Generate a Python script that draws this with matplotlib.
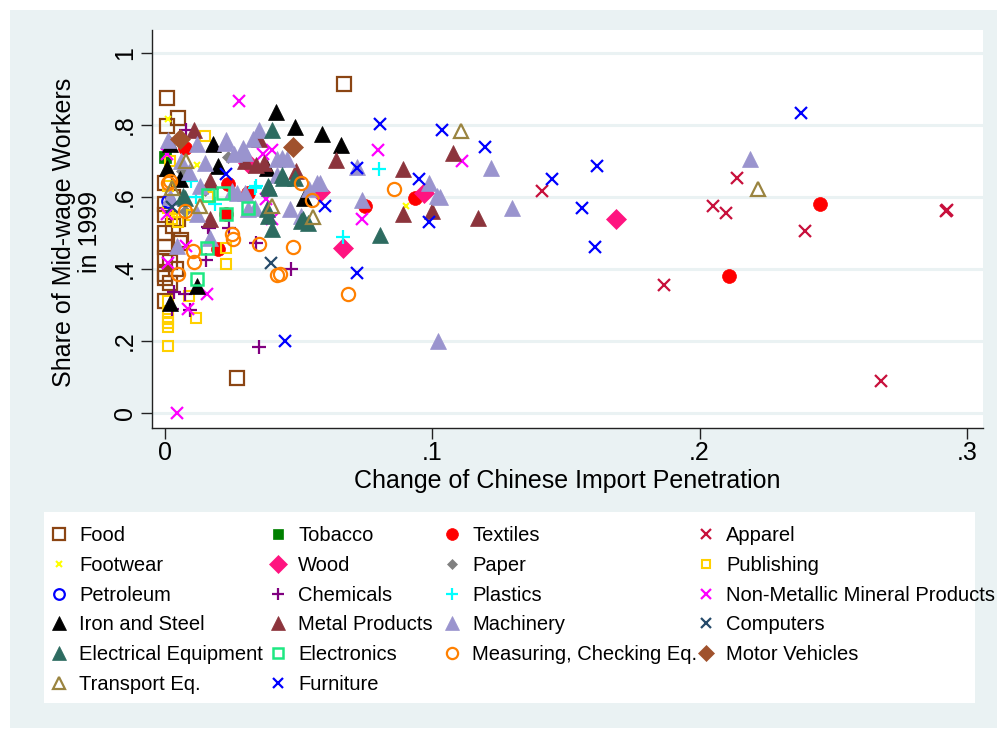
import matplotlib
matplotlib.use("Agg")
import matplotlib.pyplot as plt
from matplotlib.patches import Rectangle

plt.rcParams['font.family'] = ['Liberation Sans', 'DejaVu Sans']

# ---------------- data ----------------
food_x = [0.0007, 0.005, 0.0007, 0.067, 0.027, 0.0, 0.0, 0.0, 0.0, 0.0, 0.0056, 0.002, 0.0, 0.0, 0.0,
          0.003, 0.005, 0.003, 0.006, 0.0, 0.004, 0.002]
food_y = [0.876, 0.82, 0.798, 0.915, 0.097, 0.50, 0.46, 0.387, 0.375, 0.31, 0.473, 0.42, 0.64, 0.58, 0.55,
          0.60, 0.54, 0.52, 0.48, 0.43, 0.40, 0.36]
tobacco_x = [0.0]
tobacco_y = [0.71]
textiles_x = [0.245, 0.211, 0.0935, 0.075, 0.0075, 0.02, 0.031, 0.0235, 0.023]
textiles_y = [0.581, 0.381, 0.598, 0.576, 0.737, 0.456, 0.61, 0.637, 0.553]
apparel_x = [0.141, 0.1865, 0.205, 0.21, 0.214, 0.2396, 0.268, 0.292, 0.2925]
apparel_y = [0.617, 0.356, 0.576, 0.556, 0.654, 0.506, 0.089, 0.562, 0.565]
footwear_x = [0.001, 0.09, 0.003, 0.012]
footwear_y = [0.818, 0.576, 0.55, 0.69]
wood_x = [0.1686, 0.097, 0.0665, 0.058, 0.031]
wood_y = [0.54, 0.61, 0.459, 0.615, 0.695]
paper_x = [0.0235, 0.0075, 0.0064, 0.015]
paper_y = [0.71, 0.56, 0.673, 0.62]
publishing_x = [0.001, 0.001, 0.001, 0.001, 0.001, 0.001, 0.0026, 0.001, 0.001, 0.002, 0.005, 0.009,
                0.0116, 0.023, 0.023, 0.015, 0.016, 0.01]
publishing_y = [0.31, 0.28, 0.26, 0.25, 0.24, 0.186, 0.54, 0.57, 0.63, 0.70, 0.53, 0.325,
                0.264, 0.414, 0.459, 0.77, 0.60, 0.55]
petroleum_x = [0.001]
petroleum_y = [0.59]
chemicals_x = [0.035, 0.047, 0.034, 0.0155, 0.0035, 0.0075, 0.0026, 0.0093, 0.0165, 0.024, 0.008, 0.016]
chemicals_y = [0.184, 0.40, 0.473, 0.425, 0.335, 0.33, 0.29, 0.285, 0.515, 0.515, 0.785, 0.517]
plastics_x = [0.08, 0.0665, 0.0097, 0.0116, 0.0336, 0.0187, 0.034]
plastics_y = [0.678, 0.49, 0.645, 0.60, 0.625, 0.58, 0.63]
nonmet_x = [0.0277, 0.0045, 0.0796, 0.111, 0.0736, 0.0157, 0.0086, 0.001, 0.008, 0.0366, 0.040,
            0.0007, 0.0007, 0.0378, 0.04]
nonmet_y = [0.868, 0.0, 0.73, 0.70, 0.54, 0.331, 0.29, 0.417, 0.465, 0.72, 0.73,
            0.72, 0.553, 0.595, 0.54]
iron_x = [0.0415, 0.0486, 0.0587, 0.066, 0.018, 0.0007, 0.002, 0.0056, 0.012, 0.002, 0.038, 0.052, 0.02]
iron_y = [0.835, 0.795, 0.776, 0.744, 0.748, 0.68, 0.748, 0.65, 0.353, 0.306, 0.68, 0.597, 0.687]
metal_x = [0.089, 0.064, 0.049, 0.1077, 0.089, 0.1, 0.117, 0.037, 0.035, 0.011, 0.017, 0.03, 0.034, 0.017]
metal_y = [0.679, 0.704, 0.673, 0.722, 0.553, 0.56, 0.542, 0.695, 0.762, 0.785, 0.645, 0.70, 0.69, 0.54]
machinery_x = [0.219, 0.13, 0.122, 0.103, 0.102, 0.0986, 0.1017, 0.0736, 0.072, 0.058, 0.054, 0.0467,
               0.051, 0.0437, 0.035, 0.001, 0.012, 0.023, 0.029, 0.015, 0.026, 0.013, 0.025, 0.012,
               0.0045, 0.017, 0.03, 0.031, 0.033, 0.03, 0.042, 0.057, 0.042, 0.0224, 0.027, 0.0336,
               0.0456, 0.002, 0.006, 0.009]
machinery_y = [0.705, 0.57, 0.68, 0.6, 0.2, 0.64, 0.603, 0.593, 0.684, 0.64, 0.623, 0.567,
               0.548, 0.707, 0.785, 0.757, 0.748, 0.757, 0.737, 0.695, 0.72, 0.63, 0.617, 0.553,
               0.465, 0.487, 0.61, 0.567, 0.762, 0.723, 0.706, 0.64, 0.66, 0.75, 0.61, 0.57,
               0.706, 0.60, 0.70, 0.67]
computers_x = [0.0396, 0.0026]
computers_y = [0.417, 0.572]
electrical_x = [0.04, 0.0804, 0.0535, 0.051, 0.044, 0.0437, 0.0385, 0.0385, 0.040, 0.0516, 0.039,
                0.0486, 0.038, 0.0075, 0.0067]
electrical_y = [0.785, 0.495, 0.528, 0.534, 0.653, 0.66, 0.63, 0.548, 0.512, 0.54, 0.625,
                0.653, 0.567, 0.598, 0.603]
electronics_x = [0.016, 0.0217, 0.023, 0.031, 0.0157, 0.012]
electronics_y = [0.606, 0.61, 0.553, 0.57, 0.459, 0.373]
measuring_x = [0.0856, 0.051, 0.055, 0.048, 0.043, 0.0684, 0.035, 0.042, 0.0105, 0.011, 0.005, 0.025,
               0.0254, 0.0075, 0.002, 0.001]
measuring_y = [0.623, 0.64, 0.593, 0.46, 0.386, 0.33, 0.47, 0.384, 0.45, 0.42, 0.387, 0.498,
               0.484, 0.56, 0.645, 0.64]
motor_x = [0.048, 0.0056]
motor_y = [0.74, 0.76]
transport_x = [0.1107, 0.2217, 0.0553, 0.04, 0.008, 0.013, 0.0026]
transport_y = [0.782, 0.623, 0.545, 0.575, 0.70, 0.575, 0.625]
furniture_x = [0.2378, 0.1615, 0.161, 0.156, 0.1447, 0.1196, 0.1036, 0.095, 0.0987, 0.0804, 0.072,
               0.045, 0.072, 0.060, 0.023]
furniture_y = [0.832, 0.687, 0.46, 0.57, 0.65, 0.74, 0.787, 0.65, 0.531, 0.804, 0.39,
               0.2, 0.68, 0.576, 0.664]

x_ticks = [0, 0.1, 0.2, 0.3]
x_tick_labels = ["0", ".1", ".2", ".3"]
y_ticks = [0, 0.2, 0.4, 0.6, 0.8, 1.0]
y_tick_labels = ["0", ".2", ".4", ".6", ".8", "1"]

# (label, x, y, marker, color, size, filled, edge width)
series = [
    ("Food", food_x, food_y, 's', '#8B4513', 10, False, 1.6),
    ("Tobacco", tobacco_x, tobacco_y, 's', '#008000', 9, True, 1.0),
    ("Textiles", textiles_x, textiles_y, 'o', '#FF0000', 10, True, 1.0),
    ("Apparel", apparel_x, apparel_y, 'x', '#C8103C', 9, True, 1.6),
    ("Footwear", footwear_x, footwear_y, 'x', '#FFFF00', 5, True, 1.5),
    ("Wood", wood_x, wood_y, 'D', '#FF1480', 10.5, True, 1.0),
    ("Paper", paper_x, paper_y, 'D', '#808080', 6.5, True, 1.0),
    ("Publishing", publishing_x, publishing_y, 's', '#FFD000', 6.5, False, 1.5),
    ("Petroleum", petroleum_x, petroleum_y, 'o', '#0000FF', 9, False, 1.6),
    ("Chemicals", chemicals_x, chemicals_y, '+', '#800080', 10, True, 1.6),
    ("Plastics", plastics_x, plastics_y, '+', '#00FFFF', 10, True, 1.6),
    ("Non-Metallic Mineral Products", nonmet_x, nonmet_y, 'x', '#FF00FF', 9, True, 1.6),
    ("Iron and Steel", iron_x, iron_y, '^', '#000000', 11.5, True, 1.0),
    ("Metal Products", metal_x, metal_y, '^', '#8C343C', 11.5, True, 1.0),
    ("Machinery", machinery_x, machinery_y, '^', '#9A94CE', 11.5, True, 1.0),
    ("Computers", computers_x, computers_y, 'x', '#264A6A', 9, True, 1.6),
    ("Electrical Equipment", electrical_x, electrical_y, '^', '#2D6B60', 11.5, True, 1.0),
    ("Electronics", electronics_x, electronics_y, 's', '#1EE882', 9, False, 1.8),
    ("Measuring, Checking Eq.", measuring_x, measuring_y, 'o', '#FF8000', 9.5, False, 1.6),
    ("Motor Vehicles", motor_x, motor_y, 'D', '#A0522D', 10, True, 1.0),
    ("Transport Eq.", transport_x, transport_y, '^', '#9A8440', 10, False, 1.6),
    ("Furniture", furniture_x, furniture_y, 'x', '#0000FF', 9, True, 1.6),
]

W, H = 997, 731
fig = plt.figure(figsize=(W / 100, H / 100), dpi=100, facecolor='white')


def fx(px):
    return px / W


def fy(py):
    return 1 - py / H


# graph region background and legend box (drawn below the axes)
fig.patches.append(Rectangle((fx(10), fy(728)), fx(987), 718 / H, transform=fig.transFigure,
                             facecolor='#EAF2F3', edgecolor='none', zorder=-5))
fig.patches.append(Rectangle((fx(44), fy(703)), fx(975 - 44), (703 - 512) / H, transform=fig.transFigure,
                             facecolor='white', edgecolor='none', zorder=-4))

L, R, T, B = 152, 983, 30, 428
ax = fig.add_axes([fx(L), fy(B), (R - L) / W, (B - T) / H])
ax.set_zorder(1)
ax.set_facecolor('white')

handles = {}
for i, (lab, xs, ys, mk, col, ms, filled, lw) in enumerate(series):
    if mk in ('x', '+'):
        kw = dict(color=col, markeredgewidth=lw)
    elif filled:
        kw = dict(markerfacecolor=col, markeredgecolor=col, markeredgewidth=0.5)
    else:
        kw = dict(markerfacecolor='none', markeredgecolor=col, markeredgewidth=lw)
    ln, = ax.plot(xs, ys, linestyle='none', marker=mk, markersize=ms, zorder=3 + i * 0.01,
                  clip_on=False, **kw)
    handles[lab] = ln

ax.set_xlim((L - 165) / 2673.0, (R - 165) / 2673.0)
ax.set_ylim((413 - B) / 360.0, (413 - T) / 360.0)

ax.set_xticks(x_ticks)
ax.set_xticklabels(x_tick_labels, fontsize=18)
ax.set_yticks(y_ticks)
ax.set_yticklabels(y_tick_labels, fontsize=18, rotation=90, va='center')
ax.tick_params(axis='x', direction='out', length=8, width=1, color='#222222', pad=1)
ax.tick_params(axis='y', direction='out', length=8, width=1, color='#222222', pad=3)
ax.grid(axis='y', color='#EAF2F3', linewidth=2.2, zorder=0)
ax.set_axisbelow(True)
for s in ['top', 'right']:
    ax.spines[s].set_visible(False)
for s in ['left', 'bottom']:
    ax.spines[s].set_color('#222222')
    ax.spines[s].set_linewidth(1)

fig.text(fx(567), fy(481), "Change of Chinese Import Penetration", fontsize=18,
         ha='center', va='center')
fig.text(fx(77), fy(232), "Share of Mid-wage Workers\nin 1999", fontsize=18, rotation=90,
         ha='center', va='center', linespacing=1.15)

# legend: four single-column legends placed like the reference grid
columns = [
    (59, ["Food", "Footwear", "Petroleum", "Iron and Steel", "Electrical Equipment", "Transport Eq."]),
    (278, ["Tobacco", "Wood", "Chemicals", "Metal Products", "Electronics", "Furniture"]),
    (452, ["Textiles", "Paper", "Plastics", "Machinery", "Measuring, Checking Eq."]),
    (706, ["Apparel", "Publishing", "Non-Metallic Mineral Products", "Computers", "Motor Vehicles"]),
]
fs_leg = 14.5
fs_px = fs_leg * 100 / 72
for mx, labs in columns:
    lg = fig.legend([handles[k] for k in labs], labs, loc='upper left',
                    bbox_to_anchor=(fx(mx - 0.5 * fs_px), fy(526)), ncol=1, frameon=False,
                    fontsize=fs_leg, handlelength=1.0, handletextpad=(20 - 0.5 * fs_px) / fs_px,
                    labelspacing=0.535, borderpad=0.0, borderaxespad=0.0, markerscale=0.85)
    lg.set_zorder(2)

fig.savefig("out.png", dpi=100, facecolor=fig.get_facecolor())
